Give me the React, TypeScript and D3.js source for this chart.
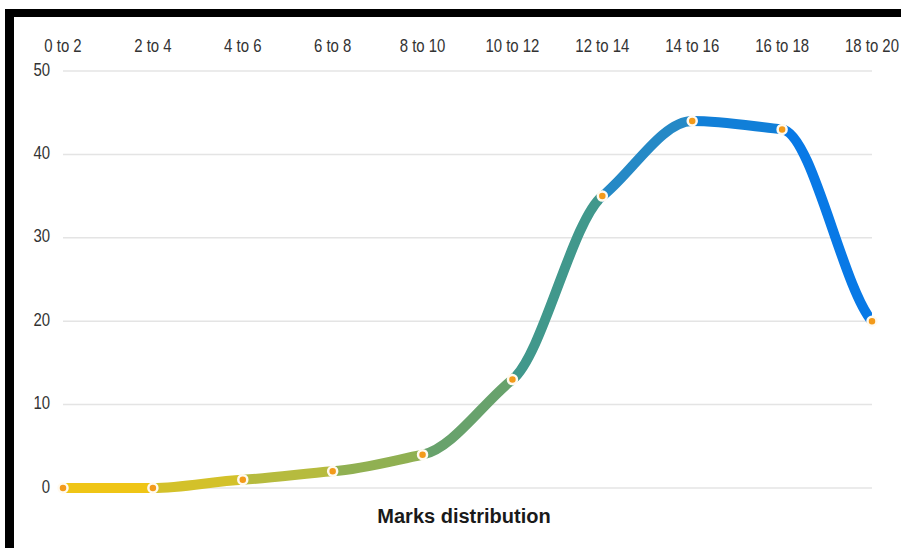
import React from "react";
import * as d3 from "d3";

const categories = ["0 to 2", "2 to 4", "4 to 6", "6 to 8", "8 to 10", "10 to 12", "12 to 14", "14 to 16", "16 to 18", "18 to 20"];
const values = [0, 0, 1, 2, 4, 13, 35, 44, 43, 20];
const yTicks = [0, 10, 20, 30, 40, 50];
const segmentColors = ["#efc516", "#d3c12a", "#b6bb3e", "#90b052", "#68a26c", "#41988c", "#2589c6", "#117fd8", "#0879e6"];
const title = "Marks distribution";

const W = 901;
const H = 548;
const TENSION = 0.55;

// Monotone-style curve whose tangents are softened (flattened) by a factor.
function softMonotone(context: any) {
  let xs: number[] = [];
  let ys: number[] = [];
  return {
    areaStart() {},
    areaEnd() {},
    lineStart() {
      xs = [];
      ys = [];
    },
    point(x: number, y: number) {
      xs.push(+x);
      ys.push(+y);
    },
    lineEnd() {
      const n = xs.length;
      if (!n) return;
      context.moveTo(xs[0], ys[0]);
      if (n === 1) return;
      const s: number[] = [];
      for (let i = 0; i < n - 1; i++) s.push((ys[i + 1] - ys[i]) / (xs[i + 1] - xs[i]));
      const t: number[] = new Array(n).fill(0);
      for (let i = 1; i < n - 1; i++) {
        const h0 = xs[i] - xs[i - 1];
        const h1 = xs[i + 1] - xs[i];
        const p = (s[i - 1] * h1 + s[i] * h0) / (h0 + h1);
        const m = (Math.sign(s[i - 1]) + Math.sign(s[i])) * Math.min(Math.abs(s[i - 1]), Math.abs(s[i]), 0.5 * Math.abs(p));
        t[i] = m * TENSION;
      }
      t[0] = s[0] * TENSION;
      t[n - 1] = s[n - 2] * TENSION;
      for (let i = 0; i < n - 1; i++) {
        const dx = (xs[i + 1] - xs[i]) / 3;
        context.bezierCurveTo(xs[i] + dx, ys[i] + dx * t[i], xs[i + 1] - dx, ys[i + 1] - dx * t[i + 1], xs[i + 1], ys[i + 1]);
      }
    },
  };
}

export default function App() {
  const x = d3.scalePoint<string>().domain(categories).range([63, 872]);
  const y = d3.scaleLinear().domain([0, 50]).range([488, 71]);
  const pts = values.map((v, i) => [x(categories[i]) as number, y(v)] as [number, number]);
  const line = d3.line<[number, number]>().x((d) => d[0]).y((d) => d[1]).curve(softMonotone as any);
  const pathD = line(pts) || "";

  return (
    <svg width={W} height={H} style={{ position: "absolute", left: 0, top: 0, background: "#fff" }}>
      <defs>
        {segmentColors.map((c, i) => (
          <clipPath id={`seg${i}`} key={i}>
            <rect x={pts[i][0]} y={0} width={pts[i + 1][0] - pts[i][0]} height={H} />
          </clipPath>
        ))}
      </defs>
      <rect x={0} y={0} width={W} height={H} fill="#fff" />
      <rect x={5} y={9} width={W - 5} height={8} fill="#000" />
      <rect x={5} y={9} width={9} height={H - 9} fill="#000" />

      {yTicks.map((t) => (
        <line key={t} x1={63} x2={872} y1={y(t)} y2={y(t)} stroke="#e4e4e4" strokeWidth={1.5} />
      ))}
      {yTicks.map((t) => (
        <text
          key={"l" + t}
          transform={`translate(50,${y(t) + 4.5}) scale(0.83,1)`}
          textAnchor="end"
          fontFamily="Liberation Sans, Arial, sans-serif"
          fontSize={18}
          fill="#333"
        >
          {t}
        </text>
      ))}
      {categories.map((c) => (
        <text
          key={c}
          transform={`translate(${x(c)},52) scale(0.83,1)`}
          textAnchor="middle"
          fontFamily="Liberation Sans, Arial, sans-serif"
          fontSize={18}
          fill="#333"
        >
          {c}
        </text>
      ))}

      {segmentColors.map((c, i) => (
        <path key={"p" + i} d={pathD} fill="none" stroke={c} strokeWidth={10} clipPath={`url(#seg${i})`} />
      ))}

      {pts.map((p, i) => (
        <circle key={"c" + i} cx={p[0]} cy={p[1]} r={4.5} fill="#f39a1a" stroke="#fffaf0" strokeWidth={2.5} />
      ))}

      <text
        x={464}
        y={523}
        textAnchor="middle"
        fontFamily="Liberation Sans, Arial, sans-serif"
        fontWeight="bold"
        fontSize={20}
        fill="#1a1a1a"
      >
        {title}
      </text>
    </svg>
  );
}
